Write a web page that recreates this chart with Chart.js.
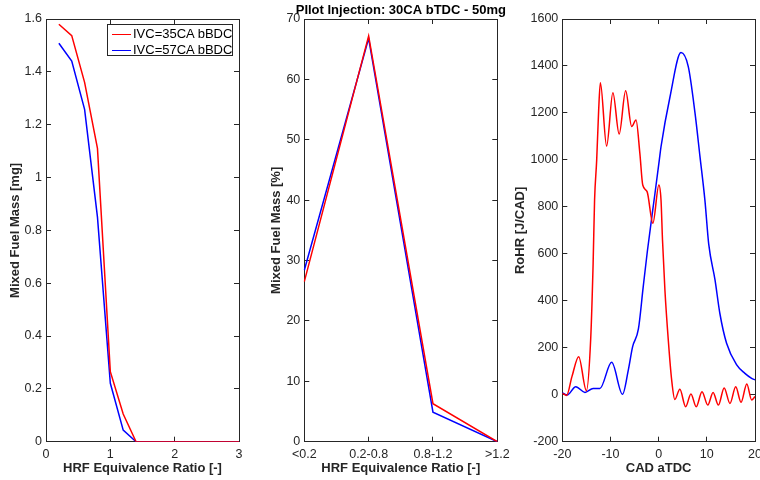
<!DOCTYPE html>
<html><head><meta charset="utf-8">
<script src="https://cdn.jsdelivr.net/npm/chart.js@4.4.0/dist/chart.umd.min.js"></script>
<style>
html,body{margin:0;padding:0;background:#fff;overflow:hidden;width:760px;height:480px;position:relative;}
canvas{position:absolute;top:0;}
#legend{position:absolute;left:107px;top:24px;width:124px;height:30px;border:1px solid #262626;background:#fff;font-family:'Liberation Sans',Arial,sans-serif;font-size:13px;color:#000;}
#legend .row{position:absolute;left:0;height:16px;line-height:16px;white-space:nowrap;}
#legend .ln{position:absolute;left:4px;top:8px;width:19px;height:0;border-top:1.5px solid;}
#legend .tx{position:absolute;left:25px;top:0;}
</style></head><body>
<canvas id="c1" width="280" height="480" style="left:0px"></canvas>
<canvas id="c2" width="302" height="480" style="left:250px"></canvas>
<canvas id="c3" width="300" height="480" style="left:500px"></canvas>
<div id="legend"></div>
<script>
// ---------- data ----------
const seriesNames = ['IVC=35CA bBDC', 'IVC=57CA bBDC'];
const seriesColors = ['#ff0000', '#0000ff'];

// panel 1: mixed fuel mass vs HRF equivalence ratio
const phi = [0.2, 0.4, 0.6, 0.8, 1.0, 1.2, 1.4, 1.6, 1.8, 2.0, 2.2, 2.4, 2.6, 2.8, 3.0];
const massIVC35 = [1.58, 1.537, 1.36, 1.11, 0.265, 0.105, 0, 0, 0, 0, 0, 0, 0, 0, 0];
const massIVC57 = [1.508, 1.441, 1.258, 0.85, 0.221, 0.044, 0, 0, 0, 0, 0, 0, 0, 0, 0];

// panel 2: mixed fuel mass share per equivalence-ratio bin
const phiBins = ['<0.2', '0.2-0.8', '0.8-1.2', '>1.2'];
const pctIVC35 = [26.5, 67.2, 6.3, 0];
const pctIVC57 = [28.4, 66.8, 4.9, 0];

// panel 3: rate of heat release vs crank angle
const cadIVC35 = [-20, -19.1, -18.0, -16.6, -15.0, -14.1, -13.6, -13.3, -12.86, -12.45, -12.1, -10.8, -9.5, -8.2, -6.85, -5.6, -4.7, -3.9, -3.3, -2.4, -1.2, 0.05, 0.49, 0.8, 1.3, 2.0, 2.7, 3.35, 4.4, 5.6, 6.7, 7.8, 9.0, 10.2, 11.3, 12.4, 13.6, 14.8, 16.0, 17.1, 18.3, 19.3, 20];
const rohrIVC35 = [6, -3, 77, 162, 17, 240, 560, 829, 1000, 1213, 1329, 1059, 1286, 1110, 1294, 1142, 1170, 1028, 893, 865, 730, 893, 829, 659, 446, 233, 63, -20, 23, -51, 3, -51, 13, -44, 10, -44, 29, -37, 34, -32, 46, -22, -8];
const cadIVC57 = [-20, -19, -17.2, -15.3, -13.6, -12.2, -9.75, -7.5, -6.3, -5.4, -4.2, -3.2, -2.35, -0.76, 0.14, 0.49, 2.36, 4.64, 6.15, 7.55, 8.58, 9.6, 10.4, 11.7, 12.7, 14.1, 16.2, 17.9, 19.3, 20];
const rohrIVC57 = [9, -1, 34, 10, 27, 27, 138, 2, 105, 205, 280, 460, 610, 858, 1000, 1056, 1269, 1457, 1397, 1199, 1014, 829, 640, 489, 347, 219, 127, 91, 70, 63];

// tick settings
const ticks1X = {min: 0, max: 3, step: 1};
const ticks1Y = {min: 0, max: 1.6, step: 0.2};
const ticks2Y = {min: 0, max: 70, step: 10};
const ticks3X = {min: -20, max: 20, step: 10};
const ticks3Y = {min: -200, max: 1600, step: 200};

// ---------- styling helpers ----------
const AX = '#262626';
const FONT = "'Liberation Sans', Arial, Helvetica, sans-serif";
const tickFont = {family: FONT, size: 12.5};
const titleFont = {family: FONT, size: 13, weight: 'bold'};
const grid = {drawOnChartArea: false, drawTicks: true, tickLength: -5, color: AX, lineWidth: 1};
const border = {display: true, color: AX, width: 1};
const plain = v => String(Math.round(v * 100) / 100);

function pair(arrX, arrY) { return arrX.map((x, i) => ({x: x, y: arrY[i]})); }

function leftY(t, width, title, titlePad) {
  return {
    type: 'linear', position: 'left', min: t.min, max: t.max,
    ticks: {stepSize: t.step, color: AX, font: tickFont, padding: 9, callback: plain},
    grid: grid, border: border,
    title: {display: true, text: title, color: AX, font: titleFont, padding: {top: titlePad, bottom: 0}},
    afterFit: s => { s.width = width; }
  };
}
function rightY(t, width) {
  return {
    type: 'linear', position: 'right', min: t.min, max: t.max,
    ticks: {stepSize: t.step, display: false},
    grid: grid, border: border,
    afterFit: s => { s.width = width || 0; }
  };
}
function bottomLin(t, title) {
  return {
    type: 'linear', position: 'bottom', min: t.min, max: t.max,
    ticks: {stepSize: t.step, color: AX, font: tickFont, padding: 10, maxRotation: 0, callback: plain},
    grid: grid, border: border,
    title: {display: true, text: title, color: AX, font: titleFont, padding: {top: 0, bottom: 4.2}},
    afterFit: s => { s.height = 38.3; }
  };
}
function topLin(t) {
  return {
    type: 'linear', position: 'top', min: t.min, max: t.max,
    ticks: {stepSize: t.step, display: false},
    grid: grid, border: border,
    afterFit: s => { s.height = 0; }
  };
}
function ds(i, data, extra) {
  return Object.assign({label: seriesNames[i], data: data, borderColor: seriesColors[i], backgroundColor: seriesColors[i],
    borderWidth: 1.5, pointRadius: 0, fill: false, tension: 0}, extra || {});
}
const basePlugins = {legend: {display: false}, tooltip: {enabled: false}};

// ---------- panel 1 ----------
new Chart(document.getElementById('c1'), {
  type: 'line',
  data: {datasets: [ds(0, pair(phi, massIVC35)), ds(1, pair(phi, massIVC57))]},
  options: {
    responsive: false, animation: false,
    layout: {padding: {top: 19, right: 41, left: 0, bottom: 0}},
    plugins: basePlugins,
    scales: {
      x: bottomLin(ticks1X, 'HRF Equivalence Ratio [-]'),
      x2: topLin(ticks1X),
      y: leftY(ticks1Y, 46, 'Mixed Fuel Mass [mg]', 7.2),
      y2: rightY(ticks1Y)
    }
  }
});

// ---------- panel 2 ----------
new Chart(document.getElementById('c2'), {
  type: 'line',
  data: {labels: phiBins, datasets: [ds(0, pctIVC35), ds(1, pctIVC57)]},
  options: {
    responsive: false, animation: false,
    layout: {padding: {top: 0, right: 0.4, left: 0, bottom: 0}},
    plugins: Object.assign({}, basePlugins, {
      title: {display: true, text: 'PIlot Injection: 30CA bTDC - 50mg', color: '#000', font: {family: FONT, size: 13, weight: 'bold'}, padding: {top: 2.6, bottom: 0.8}}
    }),
    scales: {
      x: {
        type: 'category', position: 'bottom', offset: false,
        ticks: {color: AX, font: tickFont, padding: 10, maxRotation: 0, autoSkip: false},
        grid: Object.assign({}, grid, {offset: false}), border: border,
        title: {display: true, text: 'HRF Equivalence Ratio [-]', color: AX, font: titleFont, padding: {top: 0, bottom: 4.2}},
        afterFit: s => { s.height = 38.3; }
      },
      x2: {
        type: 'category', position: 'top', offset: false, labels: phiBins,
        ticks: {display: false, autoSkip: false},
        grid: Object.assign({}, grid, {offset: false}), border: border,
        afterFit: s => { s.height = 0; }
      },
      y: leftY(ticks2Y, 54.3, 'Mixed Fuel Mass [%]', 18.9),
      y2: rightY(ticks2Y, 54.3)
    }
  }
});

// ---------- panel 3 ----------
new Chart(document.getElementById('c3'), {
  type: 'line',
  data: {datasets: [
    ds(0, pair(cadIVC35, rohrIVC35), {cubicInterpolationMode: 'monotone'}),
    ds(1, pair(cadIVC57, rohrIVC57), {cubicInterpolationMode: 'monotone'})
  ]},
  options: {
    responsive: false, animation: false,
    layout: {padding: {top: 19, right: 45, left: 0, bottom: 0}},
    plugins: basePlugins,
    scales: {
      x: bottomLin(ticks3X, 'CAD aTDC'),
      x2: topLin(ticks3X),
      y: leftY(ticks3Y, 62.3, 'RoHR [J/CAD]', 12.2),
      y2: rightY(ticks3Y)
    }
  }
});

// ---------- legend (panel 1) ----------
const leg = document.getElementById('legend');
seriesNames.forEach((name, i) => {
  const row = document.createElement('div');
  row.className = 'row';
  row.style.top = (1 + i * 16) + 'px';
  row.innerHTML = '<span class="ln" style="border-color:' + seriesColors[i] + '"></span><span class="tx"></span>';
  row.querySelector('.tx').textContent = name;
  leg.appendChild(row);
});
</script>
</body></html>
